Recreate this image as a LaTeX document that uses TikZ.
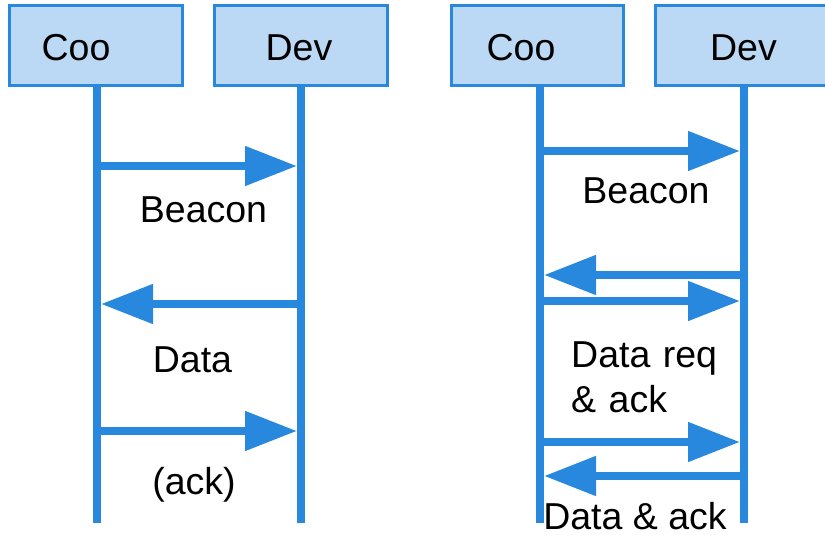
\documentclass[tikz,border=0pt]{standalone}
\usepackage{fontspec}
\setmainfont{Liberation Sans}
\usetikzlibrary{arrows.meta}
\definecolor{lineblue}{RGB}{40,136,221}
\definecolor{fillblue}{RGB}{187,216,245}
\begin{document}
\begin{tikzpicture}[x=1pt,y=-1pt,
  actor/.style={draw=lineblue, fill=fillblue, line width=3pt, minimum height=80pt, minimum width=173pt, inner sep=0pt},
  lifeline/.style={draw=lineblue, line width=8pt},
  msg/.style={draw=lineblue, line width=8pt, -{Triangle[length=52pt,width=38pt]}},
  lbl/.style={inner sep=0pt, font=\fontsize{37.5}{40}\selectfont}]
\useasboundingbox (0,0) rectangle (825,535);
% left diagram
\node[actor] (coo1) at (96,45.5) {};
\node[actor] (dev1) at (301,45.5) {};
\node[lbl, anchor=base] (coo1t) at (76,61) {Coo};
\node[lbl, anchor=base] (dev1t) at (299,61) {Dev};
\coordinate (coo1b) at (97,523);
\coordinate (dev1b) at (301,523);
\draw[lifeline] (coo1b |- coo1.south) -- (coo1b);
\draw[lifeline] (dev1b |- dev1.south) -- (dev1b);
\coordinate (l1a) at (97,166);  \coordinate (l1b) at (297,166);
\coordinate (l2a) at (301,304); \coordinate (l2b) at (101,304);
\coordinate (l3a) at (97,431);  \coordinate (l3b) at (297,431);
\draw[msg] (l1a) -- (l1b);
\draw[msg] (l2a) -- (l2b);
\draw[msg] (l3a) -- (l3b);
\node[lbl, anchor=base] (t1) at (203.5,222) {Beacon};
\node[lbl, anchor=base] (t2) at (192.5,372) {Data};
\node[lbl, anchor=base] (t3) at (194,494) {(ack)};
% right diagram
\node[actor, minimum width=172pt] (coo2) at (537.5,45.5) {};
\node[actor] (dev2) at (742,45.5) {};
\node[lbl, anchor=base] (coo2t) at (521,60) {Coo};
\node[lbl, anchor=base] (dev2t) at (743.5,60) {Dev};
\coordinate (coo2b) at (540,523);
\coordinate (dev2b) at (744,523);
\draw[lifeline] (coo2b |- coo2.south) -- (coo2b);
\draw[lifeline] (dev2b |- dev2.south) -- (dev2b);
\coordinate (r1a) at (540,151); \coordinate (r1b) at (740,151);
\coordinate (r2a) at (744,275); \coordinate (r2b) at (544,275);
\coordinate (r3a) at (540,301); \coordinate (r3b) at (740,301);
\coordinate (r4a) at (540,442); \coordinate (r4b) at (740,442);
\coordinate (r5a) at (744,476); \coordinate (r5b) at (544,476);
\draw[msg] (r1a) -- (r1b);
\draw[msg] (r2a) -- (r2b);
\draw[msg] (r3a) -- (r3b);
\draw[msg] (r4a) -- (r4b);
\draw[msg] (r5a) -- (r5b);
\node[lbl, anchor=base] (u1) at (646,203) {Beacon};
\node[lbl, anchor=base west, text width=170pt, align=left] (u2) at (571,367) {Data req\\[5pt] \& ack};
\node[lbl, anchor=base] (u3) at (635,529) {Data \& ack};
\end{tikzpicture}
\end{document}
